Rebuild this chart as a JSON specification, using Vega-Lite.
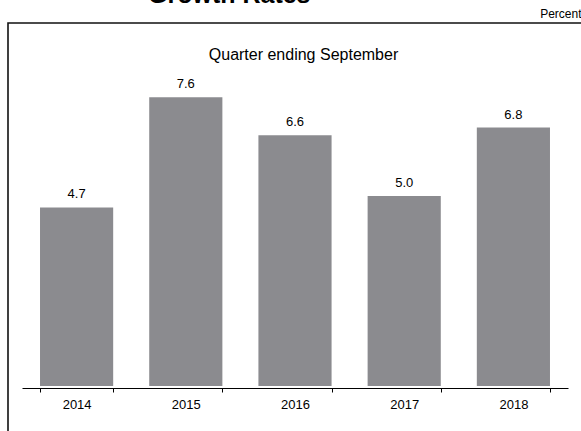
{
  "$schema": "https://vega.github.io/schema/vega-lite/v6.json",
  "width": 573,
  "height": 408,
  "autosize": {"type": "none"},
  "padding": {"left": 8, "top": 23, "right": 0, "bottom": 0},
  "config": {
    "font": "Liberation Sans",
    "view": {"stroke": "#111111", "strokeWidth": 1.6, "strokeDash": [573, 981, 408]}
  },
  "title": {
    "text": "Growth Rates",
    "fontSize": 25,
    "fontWeight": "bold",
    "color": "#000000",
    "anchor": "start",
    "frame": "group",
    "dx": 140,
    "dy": 21,
    "baseline": "alphabetic",
    "offset": 0
  },
  "data": {
    "values": [
      {"year": "2014", "value": 4.7},
      {"year": "2015", "value": 7.6},
      {"year": "2016", "value": 6.6},
      {"year": "2017", "value": 5.0},
      {"year": "2018", "value": 6.8}
    ]
  },
  "encoding": {
    "x": {
      "field": "year",
      "type": "ordinal",
      "scale": {"range": [14, 560], "paddingInner": 0.33, "paddingOuter": 0.165},
      "axis": {
        "title": "Quarter ending September",
        "labelAngle": 0,
        "offset": -43,
        "domainColor": "#000000",
        "domainWidth": 1,
        "tickColor": "#000000",
        "tickSize": 4,
        "tickBand": "extent",
        "labelFontSize": 13,
        "labelColor": "#000000",
        "labelPadding": 6,
        "titleFontSize": 16,
        "titleFontWeight": "normal",
        "titleColor": "#000000",
        "titleX": 295,
        "titleY": -329,
        "titleBaseline": "alphabetic",
        "titleAlign": "center"
      }
    },
    "y": {
      "field": "value",
      "type": "quantitative",
      "scale": {"domain": [0, 8], "range": [363, 59]},
      "axis": {
        "orient": "right",
        "domain": false,
        "ticks": false,
        "labels": false,
        "grid": false,
        "title": "Percent",
        "titleAngle": 0,
        "titleAlign": "right",
        "titleBaseline": "alphabetic",
        "titleX": 0,
        "titleY": -6,
        "titleFontSize": 12,
        "titleFontWeight": "normal",
        "titleColor": "#000000"
      }
    }
  },
  "layer": [
    {"mark": {"type": "bar", "color": "#8b8b8f"}},
    {
      "mark": {"type": "text", "dy": -9, "baseline": "alphabetic", "fontSize": 13, "color": "#000000"},
      "encoding": {"text": {"field": "value", "type": "quantitative", "format": ".1f"}}
    }
  ]
}
